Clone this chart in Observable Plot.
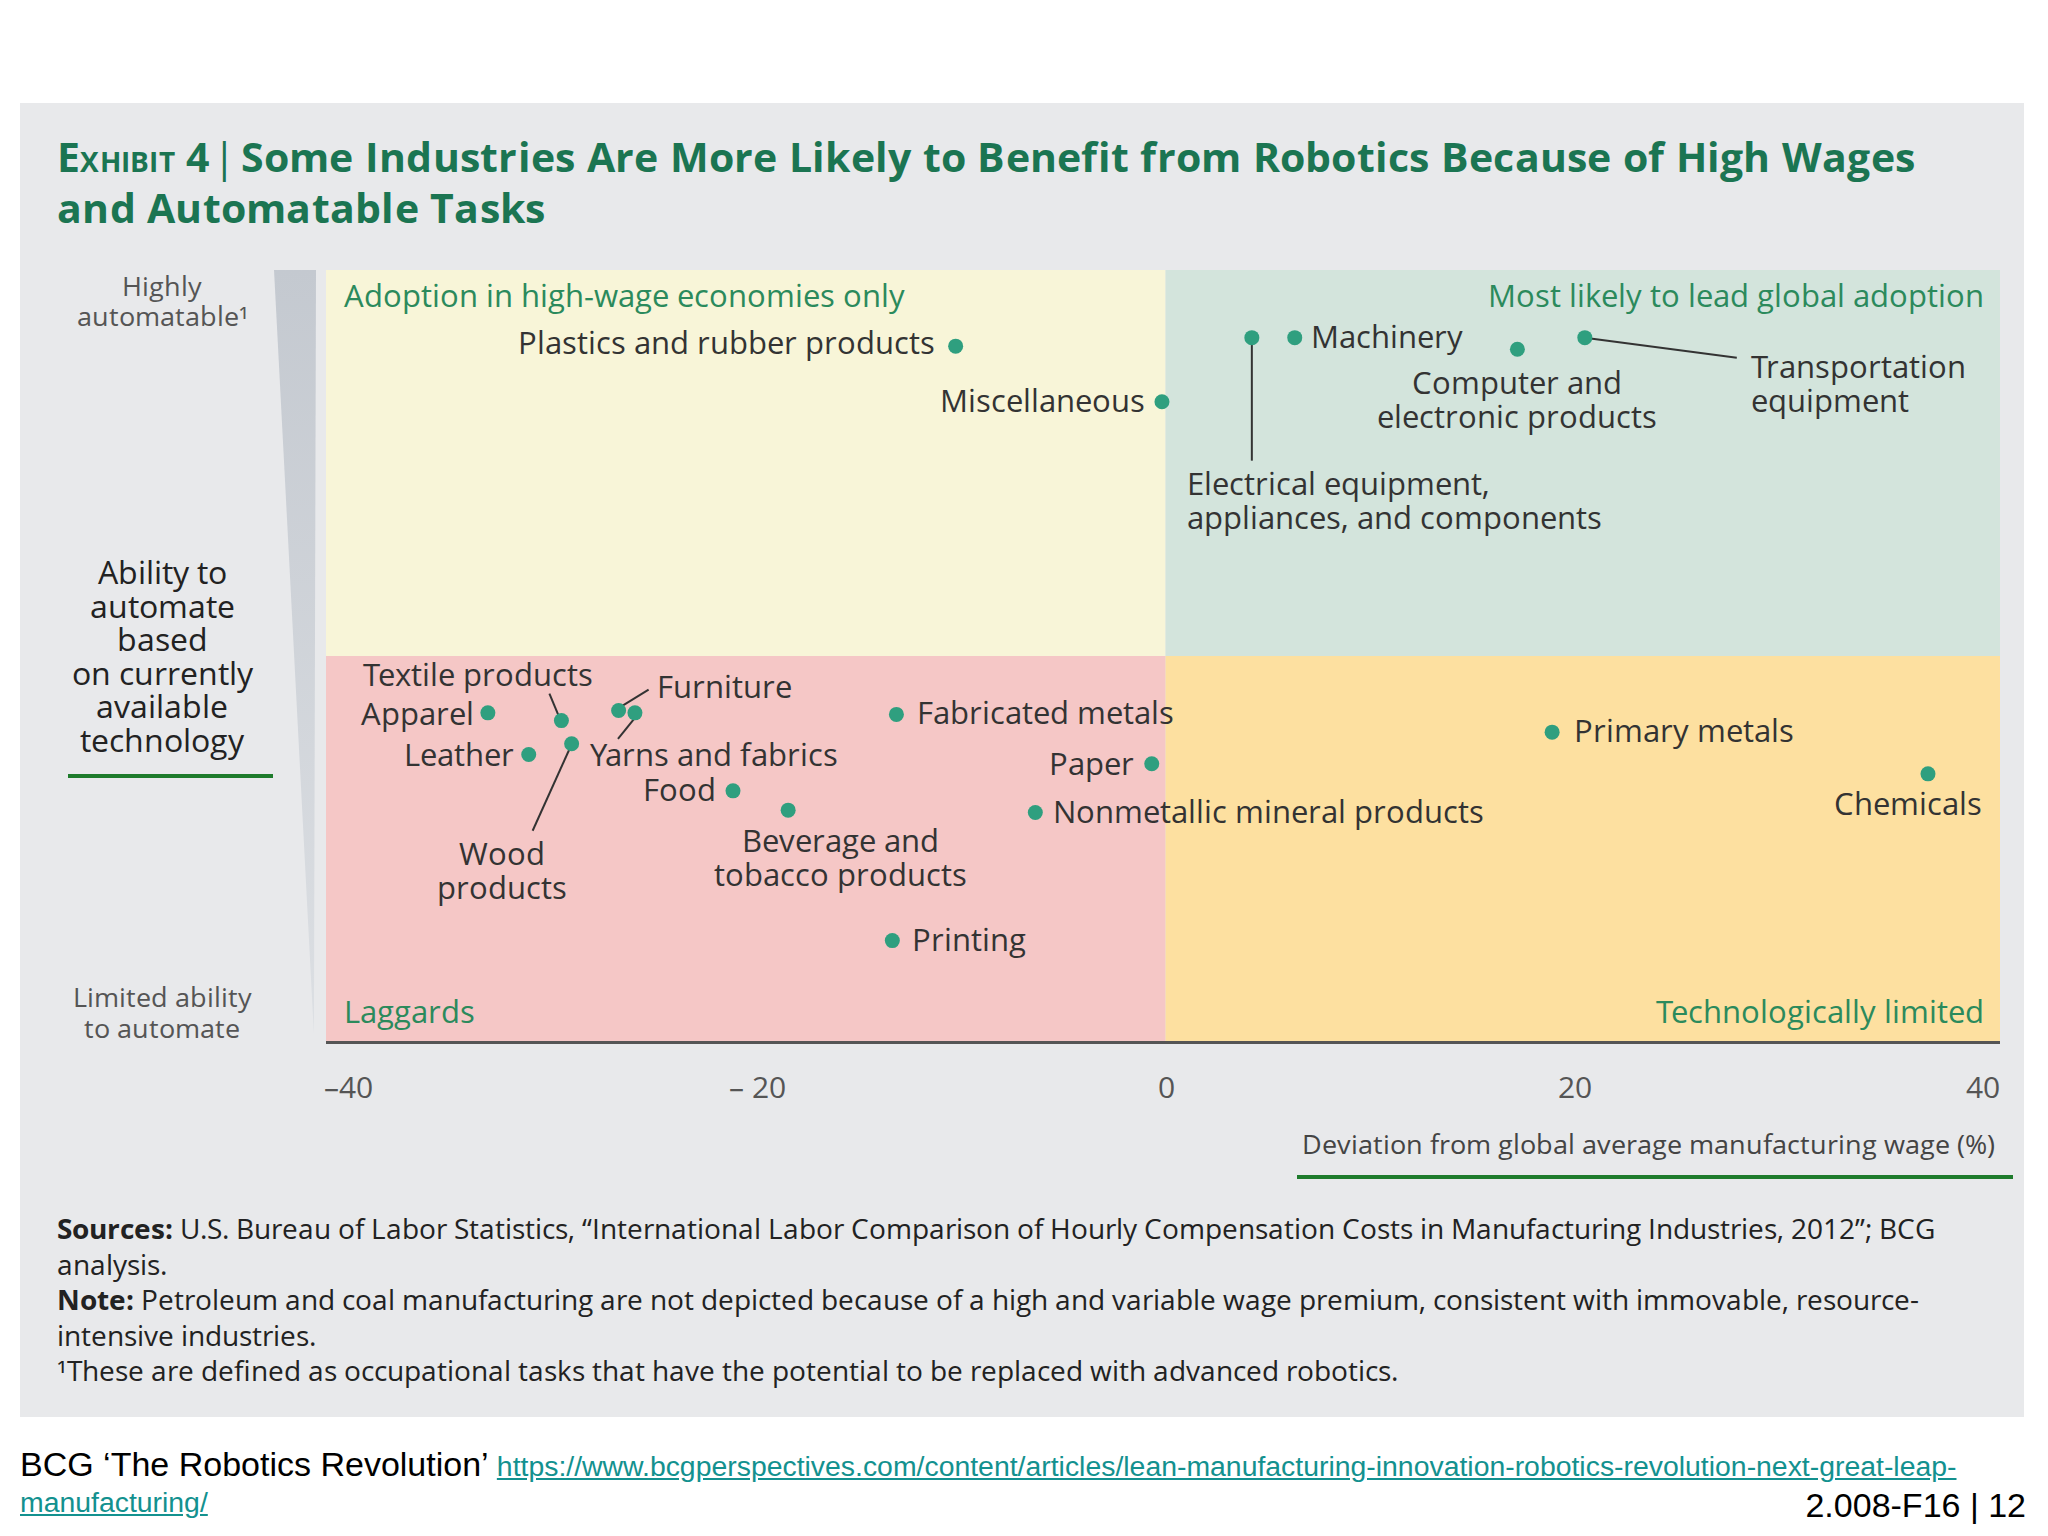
<!DOCTYPE html>
<html><head><meta charset="utf-8">
<script src="https://cdn.jsdelivr.net/npm/d3@7"></script>
<script src="https://cdn.jsdelivr.net/npm/@observablehq/plot@0.6"></script>
<style>
@font-face{font-family:"OS Tight";src:local("Open Sans"),local("Open Sans Regular"),local("OpenSans-Regular");font-weight:400;ascent-override:84%;descent-override:19%;line-gap-override:0%;}
@font-face{font-family:"OS Tight";src:local("Open Sans Bold"),local("OpenSans-Bold");font-weight:700;ascent-override:84%;descent-override:19%;line-gap-override:0%;}
html,body{margin:0;padding:0;background:#fff;}
#page{position:relative;width:2048px;height:1536px;overflow:hidden;background:#fff;font-family:"OS Tight","Open Sans",sans-serif;}
#panel{position:absolute;left:20px;top:103px;width:2004px;height:1314px;background:#e8e9eb;}
#title{position:absolute;left:57px;top:133.5px;width:1960px;font-weight:700;font-size:40.5px;letter-spacing:0.25px;line-height:51px;color:#1b7552;white-space:nowrap;}
#title .sc{font-variant:small-caps;}
#title .bar{font-weight:400;margin:0 4px;}
.side{position:absolute;left:42px;width:240px;text-align:center;}
#hi{top:272px;font-size:27px;line-height:30px;color:#555;}
#ability{top:557px;font-size:32px;line-height:33.6px;color:#222;}
#lo{top:983px;font-size:27px;line-height:31px;color:#555;}
#sideline{position:absolute;left:68px;top:774px;width:205px;height:4px;background:#1e7b2c;}
#wedge{position:absolute;left:274px;top:270px;width:42px;height:764px;background:linear-gradient(#c4c9d0,#dcdfe3);clip-path:polygon(0 0,100% 0,95% 100%);}
#chart{position:absolute;left:0;top:230px;}
#xline{position:absolute;left:1297px;top:1175px;width:716px;height:4px;background:#1e7b2c;}
#notes{position:absolute;left:57px;top:1213px;width:1960px;font-size:27.8px;line-height:35.5px;color:#222;white-space:nowrap;}
#foot{position:absolute;left:20px;top:1445px;font-family:"Liberation Sans",Arial,sans-serif;font-size:34px;line-height:38px;color:#000;white-space:nowrap;}
#foot2{position:absolute;left:20px;top:1483px;font-family:"Liberation Sans",Arial,sans-serif;font-size:28.4px;line-height:38px;white-space:nowrap;}
#foot a,#foot2 a{font-size:28.4px;color:#13918f;text-decoration:underline;}
#pg{position:absolute;right:22px;top:1487px;font-family:"Liberation Sans",Arial,sans-serif;font-size:34px;line-height:37px;color:#000;}
</style></head>
<body>
<div id="page">
  <div id="panel"></div>
  <div id="title"><span class="sc">Exhibit 4</span><span class="bar">|</span>Some Industries Are More Likely to Benefit from Robotics Because of High Wages<br>and Automatable Tasks</div>
  <div id="wedge"></div>
  <div class="side" id="hi">Highly<br>automatable¹</div>
  <div class="side" id="ability">Ability to<br>automate<br>based<br>on currently<br>available<br>technology</div>
  <div id="sideline"></div>
  <div class="side" id="lo">Limited ability<br>to automate</div>
  <div id="chart"></div>
  <div id="xline"></div>
  <div id="notes"><b>Sources:</b> U.S. Bureau of Labor Statistics, “International Labor Comparison of Hourly Compensation Costs in Manufacturing Industries, 2012”; BCG<br>analysis.<br><b>Note:</b> Petroleum and coal manufacturing are not depicted because of a high and variable wage premium, consistent with immovable, resource-<br>intensive industries.<br>¹These are defined as occupational tasks that have the potential to be replaced with advanced robotics.</div>
  <div id="foot">BCG ‘The Robotics Revolution’ <a>https://www.bcgperspectives.com/content/articles/lean-manufacturing-innovation-robotics-revolution-next-great-leap-</a></div>
  <div id="foot2"><a>manufacturing/</a></div>
  <div id="pg">2.008-F16 | 12</div>
</div>
<script>
// ---- data ----
const industries = ["Plastics and rubber products","Miscellaneous","Electrical equipment, appliances, and components","Machinery","Computer and electronic products","Transportation equipment","Textile products","Apparel","Furniture","Yarns and fabrics","Leather","Wood products","Food","Beverage and tobacco products","Fabricated metals","Paper","Nonmetallic mineral products","Printing","Primary metals","Chemicals"];
const wageDeviation = [-10.3,-0.2,4.2,6.3,17.2,20.5,-29.6,-33.2,-26.8,-26.0,-31.2,-29.1,-21.2,-18.5,-13.2,-0.7,-6.4,-13.4,18.9,37.3];
const automatability = [90.2,83.0,91.3,91.3,89.8,91.3,41.7,42.7,43.0,42.7,37.3,38.7,32.6,30.1,42.5,36.1,29.8,13.2,40.2,34.8];
const labelText = ["Plastics and rubber products","Miscellaneous","Electrical equipment,\nappliances, and components","Machinery","Computer and\nelectronic products","Transportation\nequipment","Textile products","Apparel","Furniture","Yarns and fabrics","Leather","Wood\nproducts","Food","Beverage and\ntobacco products","Fabricated metals","Paper","Nonmetallic mineral products","Printing","Primary metals","Chemicals"];
const xTicks = [-40,-20,0,20,40];
const xTickLabels = ["–40","– 20","0","20","40"];
const quadrantNames = ["Adoption in high-wage economies only","Most likely to lead global adoption","Laggards","Technologically limited"];
const quadrantColors = ["#f8f5d8","#d3e4dc","#f5c7c6","#fde0a0"];
const xAxisTitle = "Deviation from global average manufacturing wage (%)";

// ---- layout options (pixel offsets for labels/leaders) ----
const labelLayout = [
  {a:"end",dx:-21,dy:-3},{a:"end",dx:-17,dy:-1},{a:"start",dx:-65,dy:163,lead:[0,0,0,123]},
  {a:"start",dx:16,dy:-1},{a:"middle",dx:0,dy:51},{a:"start",dx:166,dy:46,lead:[0,0,152,20]},
  {a:"start",dx:-198,dy:-45,lead:[-2,-3,-12,-27]},{a:"end",dx:-14,dy:1},{a:"start",dx:38,dy:-23,lead:[4,-5,30,-21]},
  {a:"start",dx:-45,dy:42,lead:[0,5,-17,26]},{a:"end",dx:-15,dy:1},{a:"middle",dx:-70,dy:127,lead:[-2,5,-39,87]},
  {a:"end",dx:-17,dy:-1},{a:"middle",dx:52,dy:48},{a:"start",dx:21,dy:-1},
  {a:"end",dx:-18,dy:0},{a:"start",dx:18,dy:0},{a:"start",dx:20,dy:-1},
  {a:"start",dx:22,dy:-1},{a:"middle",dx:-20,dy:30}
];

const W = 2048, H = 1000, mL = 326, mR = 48, mT = 40, mB = 188;
const xDom = [-41.1, 40.85], yDom = [0, 100];
const kx = (W - mL - mR) / (xDom[1] - xDom[0]);
const ky = (H - mT - mB) / (yDom[1] - yDom[0]);

const pts = industries.map((name, i) => ({name, x: wageDeviation[i], y: automatability[i], label: labelText[i], ...labelLayout[i]}));
const leaders = pts.filter(d => d.lead).map(d => ({
  x1: d.x + d.lead[0]/kx, y1: d.y - d.lead[1]/ky, x2: d.x + d.lead[2]/kx, y2: d.y - d.lead[3]/ky
}));
const quads = [
  {x1: xDom[0], x2: 0, y1: 50, y2: 100},
  {x1: 0, x2: xDom[1], y1: 50, y2: 100},
  {x1: xDom[0], x2: 0, y1: 0, y2: 50},
  {x1: 0, x2: xDom[1], y1: 0, y2: 50}
].map((q, i) => ({...q, name: quadrantNames[i], color: quadrantColors[i]}));
const qAnchors = ["top-left","top-right","bottom-left","bottom-right"];

const labelMarks = pts.map(d => Plot.text([d], {x:"x", y:"y", text:"label", textAnchor:d.a, dx:d.dx, dy:d.dy,
  fontSize:31, fill:"#333", lineHeight:1.1, lineAnchor:"middle"}));

const chart = Plot.plot({
  width: W, height: H, marginLeft: mL, marginRight: mR, marginTop: mT, marginBottom: mB,
  x: {domain: xDom}, y: {domain: yDom, axis: null},
  style: {fontFamily: "'OS Tight', 'Open Sans', sans-serif", background: "transparent", overflow: "visible"},
  marks: [
    Plot.rect(quads, {x1:"x1", x2:"x2", y1:"y1", y2:"y2", fill:"color"}),
    ...quads.map((q, i) => Plot.text([q.name], {frameAnchor: qAnchors[i],
      dx: i % 2 === 0 ? 17 : -17, dy: i < 2 ? 27 : -29, lineAnchor:"middle",
      fontSize: 31.2, fill: "#2b8a5c"})),
    Plot.ruleY([0], {stroke:"#555", strokeWidth:3}),
    Plot.axisX(xTicks, {tickSize:0, tickPadding:34, tickFormat: d => xTickLabels[xTicks.indexOf(d)], fontSize:30, color:"#555", label:null}),
    Plot.text([xAxisTitle], {frameAnchor:"bottom-right", dx:-6, dy:103, lineAnchor:"middle", fontSize:27, fill:"#444"}),
    Plot.link(leaders, {x1:"x1", y1:"y1", x2:"x2", y2:"y2", stroke:"#333", strokeWidth:2}),
    Plot.dot(pts, {x:"x", y:"y", r:7.5, fill:"#2f9f7f"}),
    ...labelMarks
  ]
});
document.getElementById("chart").appendChild(chart);
</script>
</body></html>
